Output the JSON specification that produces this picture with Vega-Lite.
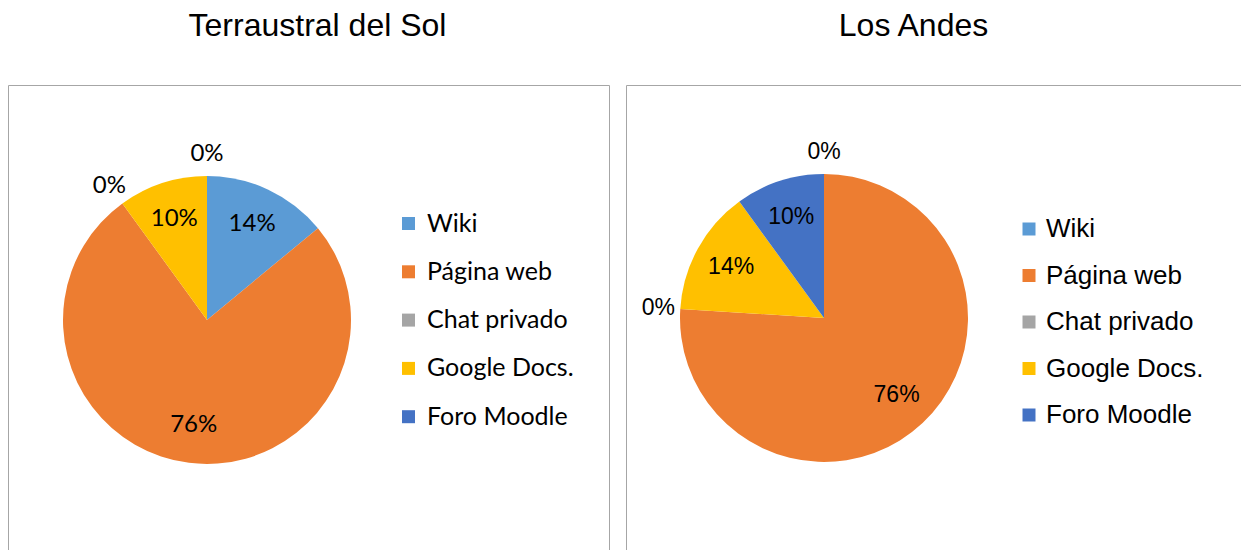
{
  "$schema": "https://vega.github.io/schema/vega-lite/v6.json",
  "background": "white",
  "padding": {"left": 7, "top": 9, "right": 0, "bottom": 0},
  "data": {
    "values": [
      {"centro": "Terraustral del Sol", "medio": "Wiki", "i": 1, "v": 0.14},
      {"centro": "Terraustral del Sol", "medio": "Página web", "i": 2, "v": 0.76},
      {"centro": "Terraustral del Sol", "medio": "Chat privado", "i": 3, "v": 0},
      {"centro": "Terraustral del Sol", "medio": "Google Docs.", "i": 4, "v": 0.10},
      {"centro": "Terraustral del Sol", "medio": "Foro Moodle", "i": 5, "v": 0},
      {"centro": "Los Andes", "medio": "Wiki", "i": 1, "v": 0},
      {"centro": "Los Andes", "medio": "Página web", "i": 2, "v": 0.76},
      {"centro": "Los Andes", "medio": "Chat privado", "i": 3, "v": 0},
      {"centro": "Los Andes", "medio": "Google Docs.", "i": 4, "v": 0.14},
      {"centro": "Los Andes", "medio": "Foro Moodle", "i": 5, "v": 0.10}
    ]
  },
  "config": {
    "view": {"stroke": "#a6a6a6", "strokeWidth": 1},
    "title": {"font": "Liberation Sans", "fontSize": 32, "fontWeight": "normal", "color": "black", "offset": 42}
  },
  "spacing": 15,
  "resolve": {"scale": {"color": "independent"}, "legend": {"color": "independent"}},
  "hconcat": [
    {
      "width": 601,
      "height": 480,
      "view": {"stroke": "#a6a6a6", "strokeWidth": 1},
      "title": {"text": "Terraustral del Sol", "dx": 9},
      "transform": [{"filter": "datum.centro == 'Terraustral del Sol'"}],
      "encoding": {
        "theta": {"field": "v", "type": "quantitative", "stack": true},
        "order": {"field": "i", "type": "quantitative"}
      },
      "layer": [
        {
          "mark": {"type": "arc", "radius": 144, "x": 199, "y": 235},
          "encoding": {
            "color": {
              "field": "medio", "type": "nominal",
              "scale": {"domain": ["Wiki", "Página web", "Chat privado", "Google Docs.", "Foro Moodle"], "range": ["#5b9bd5", "#ed7d31", "#a5a5a5", "#ffc000", "#4472c4"]},
              "legend": {"title": null, "orient": "none", "legendX": 388, "legendY": 126, "symbolType": "square", "symbolSize": 169, "symbolStrokeWidth": 0, "symbolOpacity": 1, "labelFont": "Lato", "labelFontSize": 25, "labelColor": "black", "rowPadding": 22.3, "labelOffset": 6, "padding": 0}
            }
          }
        },
        {
          "mark": {"type": "text", "radius": 106, "x": 199, "y": 235, "font": "Lato", "fontSize": 24, "color": "black"},
          "encoding": {"text": {"condition": {"test": "datum.v > 0", "field": "v", "type": "quantitative", "format": ".0%"}, "value": ""}}
        },
        {
          "mark": {"type": "text", "radius": 166, "x": 199, "y": 235, "font": "Lato", "fontSize": 24, "color": "black"},
          "encoding": {"text": {"condition": {"test": "datum.v == 0", "field": "v", "type": "quantitative", "format": ".0%"}, "value": ""}}
        }
      ]
    },
    {
      "width": 623,
      "height": 480,
      "view": {"stroke": "#a6a6a6", "strokeWidth": 1},
      "title": {"text": "Los Andes", "dx": -24},
      "transform": [{"filter": "datum.centro == 'Los Andes'"}],
      "encoding": {
        "theta": {"field": "v", "type": "quantitative", "stack": true},
        "order": {"field": "i", "type": "quantitative"}
      },
      "layer": [
        {
          "mark": {"type": "arc", "radius": 144, "x": 198, "y": 233},
          "encoding": {
            "color": {
              "field": "medio", "type": "nominal",
              "scale": {"domain": ["Wiki", "Página web", "Chat privado", "Google Docs.", "Foro Moodle"], "range": ["#5b9bd5", "#ed7d31", "#a5a5a5", "#ffc000", "#4472c4"]},
              "legend": {"title": null, "orient": "none", "legendX": 390, "legendY": 131, "symbolType": "square", "symbolSize": 169, "symbolStrokeWidth": 0, "symbolOpacity": 1, "labelFont": "Liberation Sans", "labelFontSize": 26, "labelColor": "black", "rowPadding": 20.5, "labelOffset": 4, "padding": 0}
            }
          }
        },
        {
          "mark": {"type": "text", "radius": 106, "x": 198, "y": 233, "font": "Liberation Sans", "fontSize": 23, "color": "black"},
          "encoding": {"text": {"condition": {"test": "datum.v > 0", "field": "v", "type": "quantitative", "format": ".0%"}, "value": ""}}
        },
        {
          "mark": {"type": "text", "radius": 166, "x": 198, "y": 233, "font": "Liberation Sans", "fontSize": 23, "color": "black"},
          "encoding": {"text": {"condition": {"test": "datum.v == 0", "field": "v", "type": "quantitative", "format": ".0%"}, "value": ""}}
        }
      ]
    }
  ]
}
